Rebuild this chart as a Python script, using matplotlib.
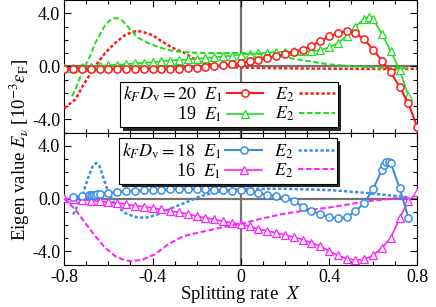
import matplotlib
matplotlib.use("Agg")
import matplotlib.pyplot as plt
from matplotlib.ticker import MultipleLocator

plt.rcParams['font.family'] = ['Liberation Serif', 'DejaVu Serif']
plt.rcParams['mathtext.fontset'] = 'stix'
plt.rcParams['axes.unicode_minus'] = False

# ---- kF Dv = 20 (red) ----
red_x = [-0.80, -0.76, -0.72, -0.68, -0.64, -0.60, -0.56, -0.52, -0.48, -0.44,
         -0.40, -0.36, -0.32, -0.28, -0.24, -0.20, -0.16, -0.12, -0.08, -0.04,
         0.00, 0.04, 0.08, 0.12, 0.16, 0.20, 0.24, 0.28, 0.32, 0.36,
         0.40, 0.44, 0.48, 0.52, 0.56, 0.60, 0.64, 0.68, 0.72, 0.76, 0.80]
red_e1 = [-0.20, -0.20, -0.20, -0.20, -0.20, -0.20, -0.20, -0.20, -0.19, -0.19,
          -0.18, -0.18, -0.17, -0.17, -0.15, -0.12, -0.06, 0.00, 0.08, 0.14,
          0.25, 0.37, 0.50, 0.65, 0.76, 0.93, 1.08, 1.25, 1.55, 1.88,
          2.25, 2.50, 2.68, 2.50, 2.05, 1.25, 0.43, -0.45, -1.55, -2.80, -4.58]
red_x2 = [-0.80, -0.75, -0.71, -0.66, -0.615, -0.57, -0.525, -0.49, -0.47, -0.45,
          -0.40, -0.36, -0.31, -0.26, -0.215, -0.17, -0.125, -0.08, 0.00, 0.20,
          0.40, 0.60, 0.80]
red_e2 = [-3.15, -2.50, -1.30, 0.00, 1.00, 1.75, 2.35, 2.60, 2.65, 2.62,
          2.35, 1.90, 1.40, 1.05, 0.60, 0.30, 0.10, -0.02, -0.10, -0.15,
          -0.18, -0.20, -0.20]

# ---- kF Dv = 19 (green) ----
green_x = [-0.80, -0.76, -0.72, -0.68, -0.64, -0.60, -0.56, -0.52, -0.48, -0.44,
           -0.40, -0.36, -0.32, -0.28, -0.24, -0.20, -0.16, -0.12, -0.08, -0.04,
           0.00, 0.04, 0.08, 0.12, 0.16, 0.20, 0.24, 0.28, 0.32, 0.36,
           0.40, 0.44, 0.48, 0.52, 0.56, 0.58, 0.60, 0.64, 0.68, 0.72, 0.76]
green_e1 = [-0.15, -0.12, -0.08, -0.04, 0.02, 0.08, 0.12, 0.16, 0.22, 0.27,
            0.30, 0.38, 0.43, 0.48, 0.52, 0.57, 0.62, 0.68, 0.75, 0.80,
            0.88, 0.93, 0.98, 1.02, 1.07, 1.10, 1.12, 1.12, 1.13, 1.22,
            1.43, 1.75, 2.30, 3.00, 3.60, 3.75, 3.55, 2.43, 1.13, -0.25, -2.25]
green_x2 = [-0.765, -0.75, -0.73, -0.706, -0.68, -0.66, -0.635, -0.615, -0.595, -0.575,
            -0.56, -0.54, -0.52, -0.50, -0.465, -0.42, -0.36, -0.30, -0.22, -0.15,
            0.00, 0.10, 0.18, 0.27, 0.40, 0.50, 0.645, 0.76]
green_e2 = [-2.25, -1.75, -0.90, 0.00, 0.90, 1.75, 2.50, 3.10, 3.45, 3.63,
            3.62, 3.50, 3.15, 2.75, 2.15, 1.75, 1.38, 1.13, 1.03, 1.00,
            1.00, 0.90, 0.75, 0.48, 0.15, 0.00, -0.12, -0.15]

# ---- kF Dv = 18 (blue) ----
blue_x = [-0.76, -0.72, -0.69, -0.68, -0.67, -0.66, -0.65, -0.64, -0.60, -0.56,
          -0.52, -0.48, -0.44, -0.40, -0.36, -0.32, -0.28, -0.24, -0.20, -0.16,
          -0.12, -0.08, -0.04, 0.00, 0.04, 0.08, 0.12, 0.16, 0.20, 0.24,
          0.28, 0.32, 0.36, 0.40, 0.44, 0.48, 0.52, 0.56, 0.60, 0.64,
          0.65, 0.66, 0.67, 0.68, 0.72, 0.76]
blue_e1 = [0.15, 0.18, 0.25, 0.28, 0.30, 0.30, 0.32, 0.35, 0.43, 0.50,
           0.55, 0.60, 0.62, 0.64, 0.68, 0.72, 0.73, 0.72, 0.73, 0.73,
           0.68, 0.63, 0.60, 0.62, 0.55, 0.43, 0.30, 0.17, 0.05, -0.17,
           -0.60, -0.90, -1.20, -1.40, -1.50, -1.40, -0.96, -0.33, 0.73, 2.19,
           2.55, 2.75, 2.80, 2.70, 0.80, -1.46]
blue_x2 = [-0.76, -0.72, -0.69, -0.67, -0.655, -0.64, -0.63, -0.60, -0.57, -0.525,
           -0.48, -0.435, -0.39, -0.345, -0.30, -0.255, -0.185, -0.095, 0.00, 0.18,
           0.31, 0.42, 0.57, 0.72, 0.76]
blue_e2 = [-1.20, 0.17, 1.68, 2.50, 2.70, 2.45, 1.94, 0.43, -0.45, -1.08,
           -1.38, -1.46, -1.28, -0.96, -0.63, -0.33, 0.17, 0.55, 0.73, 0.75,
           0.70, 0.63, 0.43, 0.17, 0.10]

# ---- kF Dv = 16 (magenta) ----
mag_x = [-0.80, -0.76, -0.72, -0.68, -0.64, -0.60, -0.56, -0.52, -0.48, -0.44,
         -0.40, -0.36, -0.32, -0.28, -0.24, -0.20, -0.16, -0.12, -0.08, -0.04,
         0.00, 0.04, 0.08, 0.12, 0.16, 0.20, 0.24, 0.28, 0.32, 0.36,
         0.40, 0.44, 0.48, 0.52, 0.56, 0.60, 0.64, 0.68, 0.72, 0.76, 0.80]
mag_e1 = [0.02, -0.05, -0.10, -0.15, -0.20, -0.27, -0.33, -0.42, -0.53, -0.61,
          -0.70, -0.82, -0.92, -1.05, -1.16, -1.33, -1.45, -1.58, -1.72, -1.83,
          -1.95, -2.10, -2.29, -2.45, -2.59, -2.75, -2.92, -3.10, -3.35, -3.60,
          -3.97, -4.30, -4.55, -4.65, -4.60, -4.30, -3.72, -2.97, -1.46, -0.20, 0.48]
mag_x2 = [-0.80, -0.75, -0.706, -0.66, -0.615, -0.57, -0.525, -0.50, -0.45, -0.39,
          -0.33, -0.26, -0.185, -0.095, 0.00, 0.09, 0.18, 0.27, 0.42, 0.57,
          0.72, 0.76]
mag_e2 = [0.00, -0.83, -1.83, -2.84, -3.72, -4.35, -4.68, -4.73, -4.65, -4.23,
          -3.47, -2.84, -2.55, -2.21, -1.91, -1.53, -1.20, -0.95, -0.63, -0.20,
          0.05, 0.10]

RED, GREEN, BLUE, MAG = '#ff1a1a', '#22dd22', '#3a8ee8', '#ff22ff'
DOT = (0, (1.3, 0.9))
DASH = (0, (2.6, 1.3))

fig = plt.figure(figsize=(4.36, 3.07), dpi=100)
ax1 = fig.add_axes([0.1475, 0.568, 0.8095, 0.432])
ax2 = fig.add_axes([0.1475, 0.138, 0.8095, 0.430])

for ax in (ax1, ax2):
    ax.axhline(0, color='0.45', lw=1.6, zorder=1)
    ax.axvline(0, color='0.45', lw=1.6, zorder=1)
    ax.set_xlim(-0.8, 0.8)
    ax.set_ylim(-5, 5)
    ax.xaxis.set_major_locator(MultipleLocator(0.4))
    ax.xaxis.set_minor_locator(MultipleLocator(0.1))
    ax.yaxis.set_minor_locator(MultipleLocator(1))
    ax.tick_params(which='both', direction='in', top=True, right=True,
                   labelsize=13, pad=3)
    ax.tick_params(which='major', length=5, width=0.8)
    ax.tick_params(which='minor', length=3, width=0.8)
    ax.set_yticks([-4, 0, 4])
    ax.set_yticklabels(['-4.0', '0.0', '4.0'])

ms = 5.2
l1, = ax1.plot(red_x, red_e1, '-o', color=RED, lw=1.5, ms=ms, mfc='white', mew=1.1, zorder=4)
l2, = ax1.plot(red_x2, red_e2, ls=DOT, color=RED, lw=1.8, zorder=3)
l3, = ax1.plot(green_x, green_e1, '-^', color=GREEN, lw=1.2, ms=ms, mfc='white', mew=0.9, zorder=3)
l4, = ax1.plot(green_x2, green_e2, ls=DASH, color=GREEN, lw=1.5, zorder=3)

b1, = ax2.plot(blue_x, blue_e1, '-o', color=BLUE, lw=1.5, ms=ms, mfc='white', mew=1.1, zorder=4)
b2, = ax2.plot(blue_x2, blue_e2, ls=DOT, color=BLUE, lw=1.8, zorder=3)
b3, = ax2.plot(mag_x, mag_e1, '-^', color=MAG, lw=1.2, ms=ms, mfc='white', mew=0.9, zorder=3)
b4, = ax2.plot(mag_x2, mag_e2, ls=DASH, color=MAG, lw=1.5, zorder=3)

ax1.tick_params(labelbottom=False)
ax2.set_xticks([-0.8, -0.4, 0, 0.4, 0.8])
ax2.set_xticklabels(['-0.8', '-0.4', '0', '0.4', '0.8'])
ax2.set_xlabel('Splitting rate  $X$', fontsize=13.5, labelpad=-1)

leg_kw = dict(ncol=2, markerfirst=False, fontsize=13, frameon=True, fancybox=False,
              edgecolor='black', framealpha=1, handlelength=2.0, handletextpad=0.25,
              columnspacing=0.7, labelspacing=0.05, borderpad=0.15, borderaxespad=0,
              shadow={'color': '0.15', 'alpha': 1, 'ox': 2, 'oy': -2}, loc='upper left')
lg1 = ax1.legend([l1, l3, l2, l4],
                 [r'$k_F D_\mathrm{v} = 20$  $E_1$', r'19  $E_1$', r'$E_2$', r'$E_2$'],
                 bbox_to_anchor=(0.158, 0.383), **leg_kw)
lg1.get_frame().set_linewidth(0.8)
lg1.set_zorder(5)
lg2 = ax2.legend([b1, b3, b2, b4],
                 [r'$k_F D_\mathrm{v} = 18$  $E_1$', r'16  $E_1$', r'$E_2$', r'$E_2$'],
                 bbox_to_anchor=(0.155, 0.956), **leg_kw)
lg2.get_frame().set_linewidth(0.8)
lg2.set_zorder(5)

fig.text(0.045, 0.51, r'Eigen value $E_\nu$ [10$^{-3}\epsilon_\mathrm{F}$]',
         rotation=90, fontsize=13.5, ha='center', va='center')

fig.savefig('out.png', dpi=100)
